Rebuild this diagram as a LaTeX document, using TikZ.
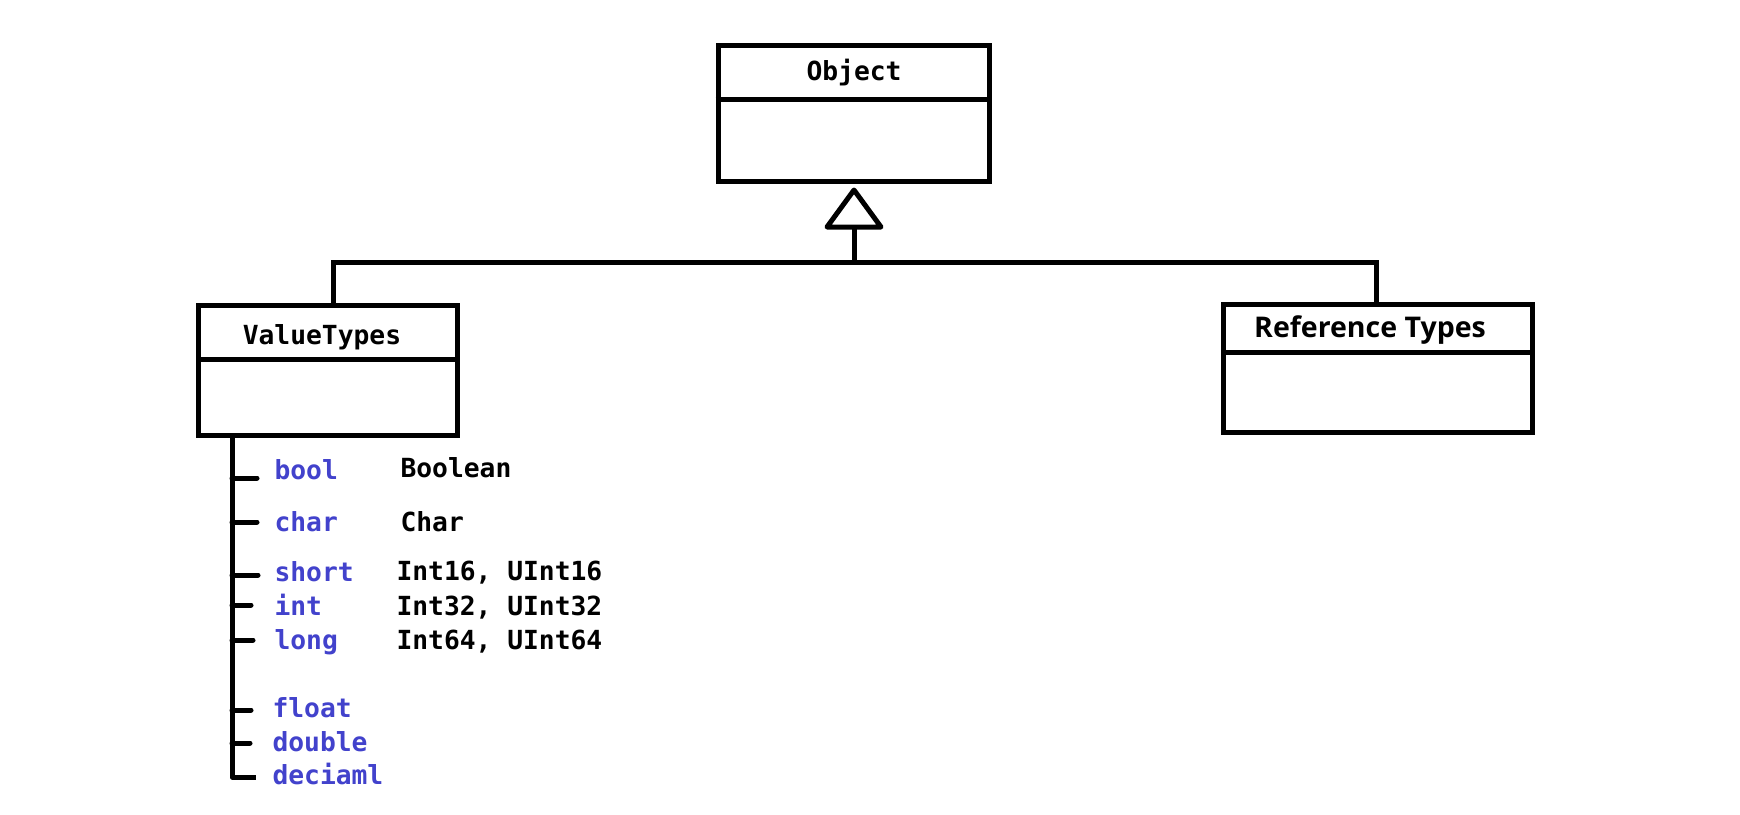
\documentclass[tikz,border=0pt]{standalone}
\usepackage{fontspec}
\setmonofont{DejaVu Sans Mono}
\newfontfamily\headsans{Open Sans}
\begin{document}
\begin{tikzpicture}[x=1pt,y=-1pt,
  line width=5pt,
  umlbox/.style={draw=black, line width=5pt, rectangle, inner sep=0pt},
  codefont/.style={font=\ttfamily\bfseries\fontsize{26.3}{30}\selectfont},
  kw/.style={codefont, text=kwblue, inner sep=0pt, anchor=base west},
  clr/.style={codefont, text=black, inner sep=0pt, anchor=base west},
  title/.style={codefont, inner sep=0pt, anchor=base},
  tick/.style={line width=5pt, line cap=round}]
\definecolor{kwblue}{RGB}{66,66,204}
\useasboundingbox[fill=white] (0,0) rectangle (1740,814);

% class boxes
\node[umlbox, minimum width=271pt, minimum height=136pt] (object) at (853.5,113.5) {};
\node[umlbox, minimum width=259pt, minimum height=130pt] (value) at (328,370.5) {};
\node[umlbox, minimum width=309pt, minimum height=128pt] (ref) at (1378,368.5) {};

% compartment dividers
\draw (object.west |- 0,99) -- (object.east |- 0,99);
\draw (value.west |- 0,359) -- (value.east |- 0,359);
\draw (ref.west |- 0,352) -- (ref.east |- 0,352);

% class names
\node[title] (objname) at (854,80) {Object};
\node[title] (valname) at (322,344) {ValueTypes};
\node[font=\headsans\bfseries\fontsize{28.5}{32}\selectfont, inner sep=0pt, anchor=base] (refname) at (1370,337) {Reference Types};

% generalisation arrow
\coordinate (apex) at (854,190);
\coordinate (baseL) at (827,227);
\coordinate (baseR) at (881,227);
\coordinate (baseM) at (854,227);
\coordinate (junction) at (854,262);
\coordinate (valtop) at (333,262);
\coordinate (reftop) at (1376,262);
\draw[line join=round] (apex) -- (baseL) -- (baseR) -- cycle;
\draw (baseM) -- (junction);
\draw[line join=miter] (value.north -| valtop) -- (valtop) -- (reftop) -- (ref.north -| reftop);

% list of value types
\coordinate (listtop) at (232,435.5);
\coordinate (t1) at (257,478);
\coordinate (t2) at (257,522);
\coordinate (t3) at (258,575);
\coordinate (t4) at (251,605);
\coordinate (t5) at (253,640);
\coordinate (t6) at (251,710);
\coordinate (t7) at (250,743);
\coordinate (t8) at (256,777);
\draw[line join=round] (listtop) -- (listtop |- t8) -- (t8);
\foreach \t in {t1,t2,t3,t4,t5,t6,t7}
  \draw[tick] (listtop |- \t) -- (\t);

\node[kw] (kbool)   at (272,479)   {bool};
\node[kw] (kchar)   at (272,531)   {char};
\node[kw] (kshort)  at (272,581.5) {short};
\node[kw] (kint)    at (272,615)   {int};
\node[kw] (klong)   at (272,649)   {long};
\node[kw] (kfloat)  at (270,717)   {float};
\node[kw] (kdouble) at (270,751)   {double};
\node[kw] (kdec)    at (270,784)   {deciaml};

\node[clr] (cbool)  at (398,477.5) {Boolean};
\node[clr] (cchar)  at (398,531.5) {Char};
\node[clr] (cshort) at (394,580.5) {Int16, UInt16};
\node[clr] (cint)   at (394,615)   {Int32, UInt32};
\node[clr] (clong)  at (394,649)   {Int64, UInt64};
\end{tikzpicture}
\end{document}
